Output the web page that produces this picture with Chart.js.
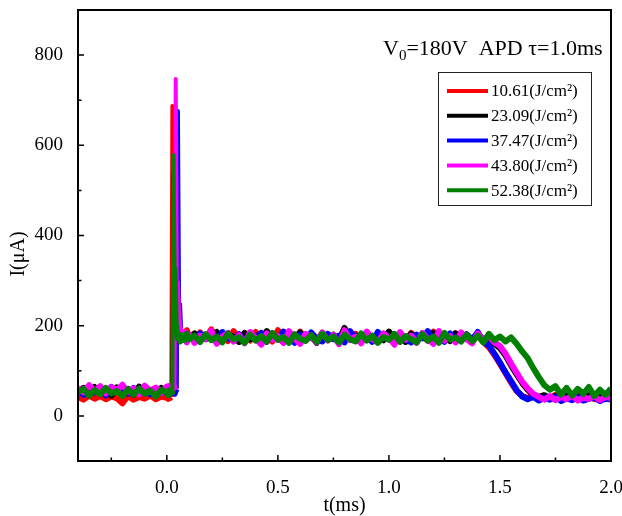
<!DOCTYPE html>
<html lang="en">
<head>
<meta charset="UTF-8">
<title>APD current vs time</title>
<script src="https://cdn.jsdelivr.net/npm/chart.js@4"></script>
<style>
  body { margin: 0; background: #fff; }
  #wrap { width: 622px; height: 516px; }
</style>
</head>
<body>
<div id="wrap"><canvas id="chart" width="622" height="516"></canvas></div>
<script>
// time axis (ms), shared by all traces
const times = [
  -0.4, -0.375, -0.35, -0.325, -0.3, -0.275, -0.25, -0.225, -0.2, -0.175, -0.15, -0.125, -0.1, -0.075, -0.05, -0.025, 0,
  0.005, 0.01, 0.015, 0.02, 0.025, 0.03, 0.035, 0.04, 0.045, 0.05, 0.055, 0.06, 0.07, 0.08, 0.09,
  0.1, 0.125, 0.15, 0.175, 0.2, 0.225, 0.25, 0.275, 0.3, 0.325, 0.35, 0.375, 0.4, 0.425, 0.45, 0.475,
  0.5, 0.525, 0.55, 0.575, 0.6, 0.625, 0.65, 0.675, 0.7, 0.725, 0.75, 0.775, 0.8, 0.825, 0.85, 0.875,
  0.9, 0.925, 0.95, 0.975, 1.0, 1.025, 1.05, 1.075, 1.1, 1.125, 1.15, 1.175, 1.2, 1.225, 1.25, 1.275,
  1.3, 1.325, 1.35, 1.375, 1.4, 1.425, 1.45, 1.475, 1.5, 1.525, 1.55, 1.575, 1.6, 1.625, 1.65, 1.675,
  1.7, 1.725, 1.75, 1.775, 1.8, 1.825, 1.85, 1.875, 1.9, 1.925, 1.95, 1.975, 2.0
];

const xTicks = [0, 0.5, 1.0, 1.5, 2.0];
const yTicks = [0, 200, 400, 600, 800];

const seriesLabels = ['10.61(J/cm²)', '23.09(J/cm²)', '37.47(J/cm²)', '43.80(J/cm²)', '52.38(J/cm²)'];

// current (uA)
const i1061 = [
  42, 36, 45, 38, 44, 37, 43, 39, 28, 44, 36, 42, 38, 45, 37, 43, 40,
  38, 44, 40, 42, 687, 380, 195, 178, 188, 170, 184, 168, 186, 171, 190,
  176, 168, 185, 171, 192, 169, 180, 166, 188, 172, 178, 167, 186, 170, 183, 165,
  190, 172, 179, 168, 187, 171, 181, 166, 184, 173, 178, 169, 193, 170, 182, 167,
  185, 172, 179, 168, 186, 171, 180, 166, 184, 173, 177, 168, 187, 170, 181, 167,
  183, 172, 178, 166, 180, 164, 152, 135, 115, 95, 74, 55, 44, 40, 46, 38,
  44, 39, 47, 40, 45, 38, 46, 41, 44, 37, 45, 40, 43
];
const i2309 = [
  55, 62, 48, 64, 50, 58, 45, 63, 52, 60, 47, 65, 51, 57, 46, 62, 53,
  49, 60, 52, 58, 50, 540, 260, 190, 178, 170, 186, 172, 183, 168, 181,
  174, 183, 167, 179, 171, 186, 169, 181, 175, 164, 184, 170, 178, 167, 188, 172,
  176, 163, 182, 171, 185, 168, 177, 162, 183, 170, 180, 166, 195, 171, 178, 165,
  184, 172, 176, 168, 187, 170, 178, 164, 182, 171, 179, 167, 184, 172, 177, 166,
  183, 170, 176, 168, 181, 170, 166, 160, 150, 134, 112, 92, 73, 58, 47, 42,
  46, 39, 44, 37, 45, 40, 43, 38, 46, 41, 44, 37, 42
];
const i3747 = [
  58, 47, 63, 52, 60, 46, 64, 53, 57, 49, 62, 50, 65, 48, 59, 51, 61,
  50, 63, 48, 60, 52, 58, 49, 56, 60, 676, 250, 188, 168, 180, 166,
  178, 165, 183, 170, 176, 163, 186, 172, 168, 181, 166, 177, 171, 184, 164, 179,
  169, 187, 173, 162, 180, 168, 185, 171, 165, 182, 170, 178, 163, 188, 172, 167,
  181, 164, 186, 171, 176, 166, 184, 170, 163, 180, 172, 188, 167, 177, 164, 183,
  171, 166, 181, 169, 186, 165, 156, 138, 118, 97, 77, 57, 43, 37, 42, 34,
  40, 36, 43, 33, 39, 35, 42, 34, 38, 41, 33, 39, 36
];
const i4380 = [
  62, 52, 68, 55, 66, 50, 64, 57, 69, 53, 61, 48, 67, 56, 63, 51, 65,
  54, 66, 52, 63, 56, 68, 58, 747, 300, 235, 205, 188, 172, 186, 163,
  181, 162, 178, 170, 189, 160, 176, 184, 165, 179, 161, 186, 172, 158, 183, 169,
  177, 162, 188, 171, 160, 182, 174, 163, 185, 167, 179, 159, 190, 168, 176, 161,
  187, 170, 164, 183, 173, 158, 186, 169, 178, 162, 184, 171, 160, 188, 167, 177,
  163, 185, 170, 161, 183, 168, 176, 163, 155, 138, 116, 96, 76, 61, 49, 42,
  36, 44, 35, 42, 37, 45, 34, 41, 38, 44, 35, 42, 39
];
const i5238 = [
  52, 60, 45, 57, 48, 62, 50, 55, 44, 59, 47, 61, 49, 56, 43, 58, 51,
  46, 57, 49, 55, 47, 578, 330, 205, 188, 172, 180, 165, 178, 168, 182,
  170, 178, 164, 181, 168, 176, 163, 183, 170, 174, 162, 180, 167, 177, 165, 184,
  169, 175, 162, 181, 171, 166, 179, 164, 182, 168, 176, 163, 180, 170, 165, 183,
  167, 178, 162, 175, 169, 182, 164, 177, 170, 163, 181, 167, 176, 162, 184, 169,
  174, 165, 180, 166, 178, 163, 182, 168, 176, 165, 174, 160, 143, 128, 106, 86,
  68, 58, 66, 47, 62, 45, 60, 49, 64, 44, 58, 47, 61
];

const FONT = '"Liberation Serif", "Times New Roman", serif';
const seriesData = [i1061, i2309, i3747, i4380, i5238];
const seriesColors = ['#ff0000', '#000000', '#0000ff', '#ff00ff', '#008000'];

function toPoints(vals) {
  return times.map((t, i) => ({ x: t, y: vals[i] }));
}

// frame, inward ticks, titles, note and legend box
const decor = {
  id: 'decor',
  afterDraw(chart) {
    const ctx = chart.ctx;
    const a = chart.chartArea;
    const xs = chart.scales.x, ys = chart.scales.y;
    ctx.save();
    ctx.strokeStyle = '#000';
    ctx.lineWidth = 1.5;

    const xMaj = xs.ticks.map(t => t.value);
    const xStep = xMaj[1] - xMaj[0];
    ctx.beginPath();
    xMaj.forEach(v => {
      const p = xs.getPixelForValue(v);
      ctx.moveTo(p, a.bottom); ctx.lineTo(p, a.bottom - 6);
      const m = xs.getPixelForValue(v - xStep / 2);
      if (m > a.left) { ctx.moveTo(m, a.bottom); ctx.lineTo(m, a.bottom - 3.5); }
    });
    const yMaj = ys.ticks.map(t => t.value);
    const yStep = yMaj[1] - yMaj[0];
    yMaj.forEach(v => {
      const p = ys.getPixelForValue(v);
      ctx.moveTo(a.left, p); ctx.lineTo(a.left + 6, p);
      const m = ys.getPixelForValue(v + yStep / 2);
      if (m > a.top) { ctx.moveTo(a.left, m); ctx.lineTo(a.left + 3.5, m); }
    });
    ctx.stroke();

    ctx.lineWidth = 2;
    ctx.strokeRect(a.left, a.top, a.right - a.left, a.bottom - a.top);

    // axis titles
    ctx.fillStyle = '#000';
    ctx.font = '20px ' + FONT;
    ctx.textAlign = 'center';
    ctx.textBaseline = 'middle';
    ctx.fillText('t(ms)', (a.left + a.right) / 2, 506);
    ctx.save();
    ctx.translate(19, 254);
    ctx.rotate(-Math.PI / 2);
    ctx.fillText('I(μA)', 0, 0);
    ctx.restore();

    // note at top right
    ctx.textAlign = 'left';
    ctx.textBaseline = 'alphabetic';
    let x = 383;
    ctx.font = '22px ' + FONT;
    ctx.fillText('V', x, 55);
    x += ctx.measureText('V').width;
    ctx.font = '15px ' + FONT;
    ctx.fillText('0', x, 60);
    x += ctx.measureText('0').width;
    ctx.font = '22px ' + FONT;
    ctx.fillText('=180V  APD τ=1.0ms', x, 55);

    // legend
    ctx.fillStyle = '#fff';
    ctx.fillRect(438, 72, 153, 133);
    ctx.strokeStyle = '#222';
    ctx.lineWidth = 1;
    ctx.strokeRect(438.5, 72.5, 153, 133);
    ctx.font = '17px ' + FONT;
    ctx.textBaseline = 'middle';
    chart.data.datasets.forEach((ds, i) => {
      const y = 91 + i * 24.8;
      ctx.strokeStyle = ds.borderColor;
      ctx.lineWidth = 4;
      ctx.beginPath();
      ctx.moveTo(447, y); ctx.lineTo(488, y);
      ctx.stroke();
      ctx.fillStyle = '#000';
      ctx.fillText(ds.label, 491, y + 1);
    });
    ctx.restore();
  }
};

new Chart(document.getElementById('chart'), {
  type: 'line',
  data: {
    datasets: seriesData.map((vals, i) => ({
      label: seriesLabels[i],
      data: toPoints(vals),
      borderColor: seriesColors[i],
      backgroundColor: seriesColors[i],
      borderWidth: 6,
      borderJoinStyle: 'round',
      // the pulse edges are thinner than the noisy bands
      segment: {
        borderWidth: c => Math.abs(c.p1.parsed.y - c.p0.parsed.y) > 150 ? 4 : 6
      },
      pointRadius: 0,
      tension: 0,
      order: seriesData.length - i   // last trace (green) ends up on top
    }))
  },
  options: {
    responsive: false,
    animation: false,
    layout: { padding: 0 },
    plugins: { legend: { display: false }, tooltip: { enabled: false } },
    scales: {
      x: {
        type: 'linear',
        min: -0.4,
        max: 2.0,
        grid: { display: false },
        border: { display: false },
        ticks: {
          padding: 8,
          color: '#000',
          font: { family: FONT, size: 19 },
          callback: v => v.toFixed(1)
        },
        afterBuildTicks: s => { s.ticks = xTicks.map(v => ({ value: v })); },
        afterFit: s => { s.height = 55; s.paddingLeft = 0; s.paddingRight = 11; }
      },
      y: {
        min: -100,
        max: 900,
        grid: { display: false },
        border: { display: false },
        ticks: {
          padding: 7,
          color: '#000',
          font: { family: FONT, size: 19 }
        },
        afterBuildTicks: s => { s.ticks = yTicks.map(v => ({ value: v })); },
        afterFit: s => { s.width = 78; s.paddingTop = 10; s.paddingBottom = 0; }
      }
    }
  },
  plugins: [decor]
});
</script>
</body>
</html>
